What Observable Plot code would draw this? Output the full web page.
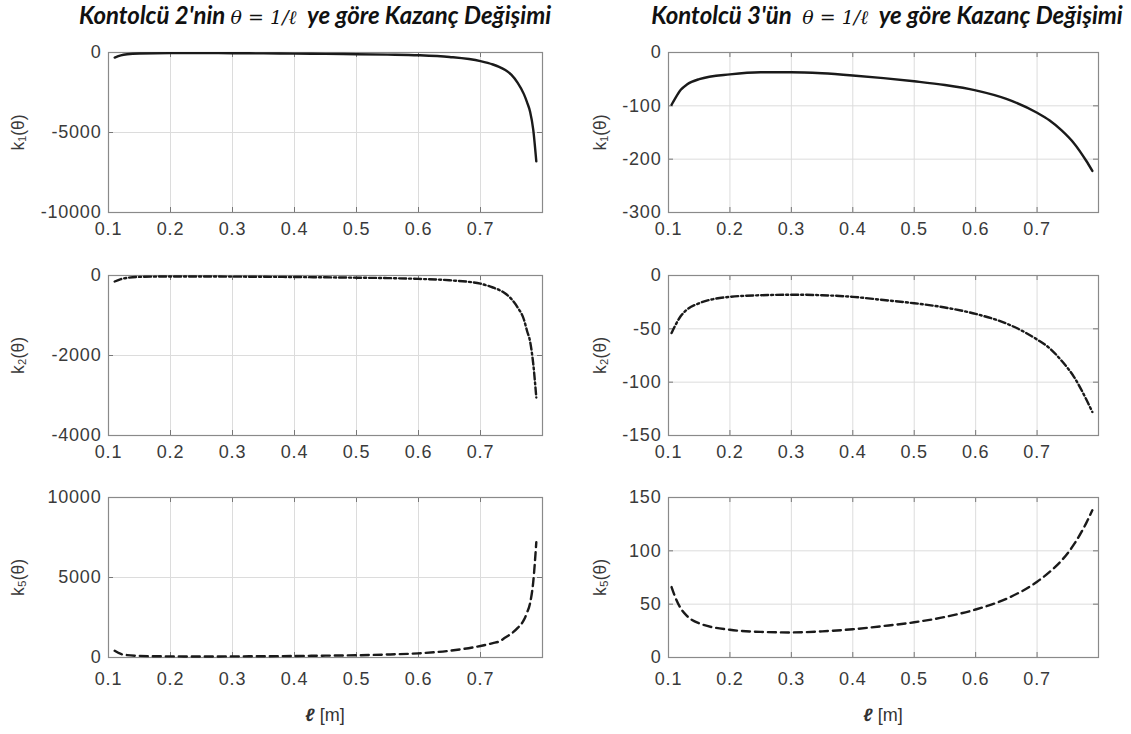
<!DOCTYPE html>
<html>
<head>
<meta charset="utf-8">
<script src="https://cdn.jsdelivr.net/npm/d3@7"></script>
<script src="https://cdn.jsdelivr.net/npm/@observablehq/plot@0.6"></script>
<style>
  body { margin: 0; background: #fff; }
  #fig { position: relative; width: 1131px; height: 734px; overflow: hidden;
         font-family: "Liberation Sans", Arial, sans-serif; }
  .title { position: absolute; top: 0px; transform: translateX(-50%); white-space: nowrap;
           font-family: Lato, sans-serif; font-weight: bold; font-style: italic; font-size: 24px; color: #111; }
  .math { font-family: "DejaVu Serif", serif; font-weight: normal; font-size: 19px; }
  .xlabel { position: absolute; top: 705px; transform: translateX(-50%); white-space: nowrap;
            font-size: 18px; color: #333; }
  svg.panel { position: absolute; font-family: "Liberation Sans", Arial, sans-serif !important;
              font-size: 18px !important; color: #3a3a3a; }
  svg.panel text { font-family: "Liberation Sans", Arial, sans-serif !important; }
  svg.panel g[aria-label="x-axis tick label"] text,
  svg.panel g[aria-label="y-axis tick label"] text { letter-spacing: 0.8px; }
  svg.panel g[aria-label="y-axis label"] text { font-size: 17.5px; }
</style>
</head>
<body>
<div id="fig"></div>
<script>
// ℓ samples for controller 2 (left column) and controller 3 (right column)
const ell2 = [0.11, 0.12, 0.13, 0.15, 0.2, 0.25, 0.3, 0.35, 0.4, 0.45, 0.5, 0.55, 0.6, 0.65,
              0.7, 0.72, 0.73, 0.74, 0.75, 0.76, 0.77, 0.775, 0.78, 0.785, 0.79];
const ell3 = [0.105, 0.11, 0.12, 0.13, 0.15, 0.2, 0.25, 0.3, 0.35, 0.4, 0.45, 0.5, 0.55, 0.6,
              0.65, 0.7, 0.72, 0.74, 0.76, 0.78, 0.79];

// Controller 2 gains
const k1c2 = [-320, -180, -110, -60, -40, -38, -45, -55, -70, -85, -105, -130, -170, -280,
              -540, -750, -900, -1100, -1400, -1900, -2600, -3100, -3700, -4800, -6800];
const k2c2 = [-150, -90, -60, -35, -25, -25, -28, -32, -38, -45, -55, -65, -85, -120,
              -205, -300, -360, -450, -590, -800, -1100, -1380, -1650, -2200, -3050];
const k5c2 = [420, 220, 150, 100, 70, 65, 70, 80, 95, 115, 140, 185, 260, 420,
              720, 900, 1000, 1250, 1500, 1850, 2350, 2800, 3400, 4700, 7200];

// Controller 3 gains
const k1c3 = [-98, -88, -70, -60, -50, -41, -37, -37, -39, -43, -48, -54, -61, -71,
              -87, -113, -127, -146, -170, -203, -222];
const k2c3 = [-54, -48, -38, -32, -26, -20, -18.5, -18, -18.5, -20, -23, -26, -30, -36,
              -45, -60, -68, -80, -95, -116, -128];
const k5c3 = [66, 58, 46, 39, 32, 26, 24, 23.5, 24.5, 26.5, 29.5, 33, 38, 45,
              55, 71, 80, 91, 106, 126, 138];

// Axis ticks
const xTicks = [0.1, 0.2, 0.3, 0.4, 0.5, 0.6, 0.7];
const yTicksK1c2 = [-10000, -5000, 0];
const yTicksK2c2 = [-4000, -2000, 0];
const yTicksK5c2 = [0, 5000, 10000];
const yTicksK1c3 = [-300, -200, -100, 0];
const yTicksK2c3 = [-150, -100, -50, 0];
const yTicksK5c3 = [0, 50, 100, 150];

const titles = [
  `Kontolcü 2'nin <span class="math"><i>θ</i> = 1/ℓ</span>&nbsp; ye göre Kazanç Değişimi`,
  `Kontolcü 3'ün &nbsp;<span class="math"><i>θ</i> = 1/ℓ</span>&nbsp; ye göre Kazanç Değişimi`
];

const fig = document.getElementById("fig");

const DASH_SOLID = null, DASH_DOTDASH = "7,3,2,3", DASH_DASHED = "8,5";
const PLOT_H = 160;

const columns = [
  { left: 0, width: 565, mLeft: 108, mRight: 23, labelOffset: 97, center: 325, titleX: 315, title: titles[0],
    panels: [
      { ell: ell2, k: k1c2, ticks: yTicksK1c2, label: "k₁(θ)", dash: DASH_SOLID },
      { ell: ell2, k: k2c2, ticks: yTicksK2c2, label: "k₂(θ)", dash: DASH_DOTDASH },
      { ell: ell2, k: k5c2, ticks: yTicksK5c2, label: "k₅(θ)", dash: DASH_DASHED }
    ] },
  { left: 565, width: 566, mLeft: 103, mRight: 33, labelOffset: 75, center: 883, titleX: 887, title: titles[1],
    panels: [
      { ell: ell3, k: k1c3, ticks: yTicksK1c3, label: "k₁(θ)", dash: DASH_SOLID },
      { ell: ell3, k: k2c3, ticks: yTicksK2c3, label: "k₂(θ)", dash: DASH_DOTDASH },
      { ell: ell3, k: k5c3, ticks: yTicksK5c3, label: "k₅(θ)", dash: DASH_DASHED }
    ] }
];

const frameTops = [52, 275, 497];
const xTickPad = [10, 10, 15];
const mTop = 10, mBottom = 38;

for (const col of columns) {
  const t = document.createElement("div");
  t.className = "title";
  t.style.left = col.titleX + "px";
  t.innerHTML = col.title;
  fig.appendChild(t);

  const innerW = col.width - col.mLeft - col.mRight;
  col.panels.forEach((p, row) => {
    const data = p.ell.map((x, i) => ({ x, y: p.k[i] }));
    const yDomain = [d3.min(p.ticks), d3.max(p.ticks)];
    const chart = Plot.plot({
      width: col.width,
      height: mTop + PLOT_H + mBottom,
      marginLeft: col.mLeft,
      marginRight: col.mRight,
      marginTop: mTop,
      marginBottom: mBottom,
      style: { fontSize: "18px", background: "transparent" },
      x: { domain: [0.1, 0.8] },
      y: { domain: yDomain },
      marks: [
        Plot.gridX(xTicks, { stroke: "#dcdcdc", strokeOpacity: 1 }),
        Plot.gridY(p.ticks, { stroke: "#dcdcdc", strokeOpacity: 1 }),
        // inward tick marks on all four sides
        Plot.ruleX(xTicks, { insetBottom: PLOT_H - 5, stroke: "#777" }),
        Plot.ruleX(xTicks, { insetTop: PLOT_H - 5, stroke: "#777" }),
        Plot.ruleY(p.ticks, { insetRight: innerW - 5, stroke: "#777" }),
        Plot.ruleY(p.ticks, { insetLeft: innerW - 5, stroke: "#777" }),
        Plot.frame({ stroke: "#8a8a8a", strokeWidth: 1.2 }),
        Plot.axisX({ ticks: xTicks, tickSize: 0, tickPadding: xTickPad[row], tickFormat: d => d.toFixed(1), label: null }),
        Plot.axisY({ ticks: p.ticks, tickSize: 0, tickPadding: 7, tickFormat: d => String(d),
                     label: p.label, labelAnchor: "center", labelArrow: "none", labelOffset: col.labelOffset }),
        Plot.line(data, { x: "x", y: "y", stroke: "#1a1a1a", strokeWidth: 2.4,
                          strokeDasharray: p.dash, curve: "monotone-x" })
      ]
    });
    chart.classList.add("panel");
    chart.style.left = col.left + "px";
    chart.style.top = (frameTops[row] - mTop) + "px";
    fig.appendChild(chart);
  });

  const xl = document.createElement("div");
  xl.className = "xlabel";
  xl.style.left = col.center + "px";
  xl.innerHTML = `<b><i>ℓ</i></b> [m]`;
  fig.appendChild(xl);
}
</script>
</body>
</html>
